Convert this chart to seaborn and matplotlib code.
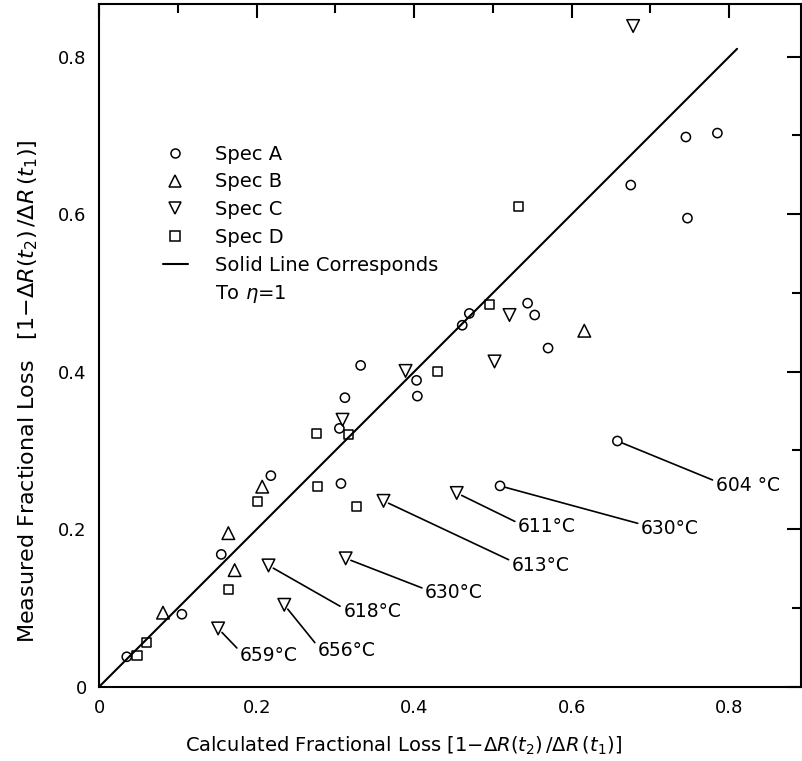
import matplotlib
matplotlib.use("Agg")
import matplotlib.pyplot as plt
import seaborn as sns
import pandas as pd
from matplotlib.lines import Line2D

# ---- data ----
spec_a_x = [0.035, 0.105, 0.155, 0.218, 0.307, 0.305, 0.312, 0.332, 0.403, 0.404,
            0.461, 0.470, 0.544, 0.553, 0.570, 0.675, 0.745, 0.785, 0.747, 0.509, 0.658]
spec_a_y = [0.038, 0.092, 0.168, 0.268, 0.258, 0.328, 0.367, 0.408, 0.389, 0.369,
            0.459, 0.474, 0.487, 0.472, 0.430, 0.637, 0.698, 0.703, 0.595, 0.255, 0.312]

spec_b_x = [0.081, 0.164, 0.172, 0.207, 0.616]
spec_b_y = [0.094, 0.195, 0.148, 0.254, 0.452]

spec_c_x = [0.309, 0.389, 0.502, 0.521, 0.678, 0.151, 0.235, 0.215, 0.313, 0.361, 0.454]
spec_c_y = [0.339, 0.401, 0.413, 0.472, 0.839, 0.074, 0.104, 0.154, 0.163, 0.236, 0.246]

spec_d_x = [0.048, 0.060, 0.164, 0.201, 0.276, 0.277, 0.317, 0.327, 0.429, 0.495, 0.532]
spec_d_y = [0.039, 0.056, 0.124, 0.235, 0.322, 0.254, 0.320, 0.229, 0.400, 0.485, 0.610]

line_x = [0.0, 0.81]
line_y = [0.0, 0.81]

# annotations: (series, index in series, label)
ann_series = ["C", "C", "C", "C", "C", "C", "A", "A"]
ann_index = [5, 6, 7, 8, 9, 10, 19, 20]
ann_labels = ["659°C", "656°C", "618°C", "630°C", "613°C", "611°C", "630°C", "604 °C"]
ann_text_x = [0.179, 0.278, 0.310, 0.414, 0.524, 0.532, 0.688, 0.783]
ann_text_y = [0.040, 0.046, 0.095, 0.119, 0.1545, 0.203, 0.2015, 0.256]

tick_vals = [0.0, 0.2, 0.4, 0.6, 0.8]
tick_labels = ["0", "0.2", "0.4", "0.6", "0.8"]
minor_vals = [0.1, 0.3, 0.5, 0.7]

# ---- style ----
sns.set_theme(style="white")
plt.rcParams["font.family"] = ["DejaVu Sans"]
plt.rcParams["mathtext.fontset"] = "dejavusans"
plt.rcParams["text.color"] = "black"
plt.rcParams["axes.labelcolor"] = "black"

W, H = 802, 761
fig = plt.figure(figsize=(W / 100, H / 100), dpi=100)
left_px, right_px, top_px, bottom_px = 99.2, 801.0, 4.0, 686.7
ax = fig.add_axes([left_px / W, 1 - bottom_px / H, (right_px - left_px) / W, (bottom_px - top_px) / H])

scale = 787.5
ax.set_xlim(0, (right_px - left_px) / scale)
ax.set_ylim(0, (bottom_px - top_px) / scale)

series = {
    "A": (spec_a_x, spec_a_y, "o", 44),
    "B": (spec_b_x, spec_b_y, "^", 82),
    "C": (spec_c_x, spec_c_y, "v", 82),
    "D": (spec_d_x, spec_d_y, "s", 42),
}
for key, (xs, ys, m, s) in series.items():
    df = pd.DataFrame({"x": xs, "y": ys})
    sns.scatterplot(data=df, x="x", y="y", marker=m, s=s, facecolor="none",
                    edgecolor="black", linewidth=1.1, ax=ax, legend=False, zorder=3)

sns.lineplot(x=line_x, y=line_y, color="black", linewidth=1.5, ax=ax, zorder=2)

for ser, idx, lab, tx, ty in zip(ann_series, ann_index, ann_labels, ann_text_x, ann_text_y):
    xs, ys, _, _ = series[ser]
    ax.annotate(lab, xy=(xs[idx], ys[idx]), xytext=(tx, ty), textcoords="data",
                ha="left", va="center", fontsize=13.5, color="black",
                arrowprops=dict(arrowstyle="-", color="black", lw=1.2,
                                shrinkA=0, shrinkB=4, relpos=(0, 0.7)))

# ticks
ax.set_xticks(tick_vals)
ax.set_xticklabels(tick_labels)
ax.set_yticks(tick_vals)
ax.set_yticklabels(tick_labels)
ax.set_xticks(minor_vals, minor=True)
ax.set_yticks(minor_vals, minor=True)
ax.tick_params(which="both", direction="in", top=True, right=True, colors="black",
               width=1.5)
ax.tick_params(which="major", length=10, labelsize=13, pad=9)
ax.tick_params(which="minor", length=6.5)
for sp in ax.spines.values():
    sp.set_color("black")
    sp.set_linewidth(1.5)
ax.grid(False)

ax.set_xlabel(r"Calculated Fractional Loss $\left[1{-}\Delta R(t_2)\,/\Delta R\,(t_1)\right]$",
              fontsize=14)
ax.xaxis.set_label_coords(0.434, -0.071)
ax.set_ylabel(r"Measured Fractional Loss   $\left[1{-}\Delta R(t_2)\,/\Delta R\,(t_1)\right]$",
              fontsize=16)
ax.yaxis.set_label_coords(-0.085, 0.433)

# legend
handles = [
    Line2D([], [], marker="o", ls="none", mfc="none", mec="black", ms=6.5, mew=1.1),
    Line2D([], [], marker="^", ls="none", mfc="none", mec="black", ms=9, mew=1.1),
    Line2D([], [], marker="v", ls="none", mfc="none", mec="black", ms=9, mew=1.1),
    Line2D([], [], marker="s", ls="none", mfc="none", mec="black", ms=6.5, mew=1.1),
    Line2D([], [], color="black", lw=1.5),
    Line2D([], [], ls="none"),
]
labels = ["Spec A", "Spec B", "Spec C", "Spec D", "Solid Line Corresponds", r"To $\eta$=1"]
ax.legend(handles, labels, loc="upper left", bbox_to_anchor=(0.0905, 0.794),
          frameon=False, fontsize=14, handlelength=1.3, handletextpad=1.4,
          labelspacing=0.45, borderpad=0, borderaxespad=0)

fig.savefig("out.png", dpi=100)
